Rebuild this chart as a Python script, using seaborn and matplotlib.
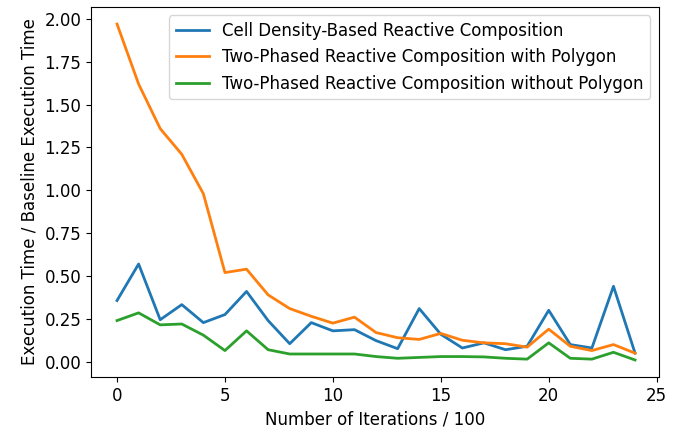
import matplotlib
matplotlib.use("Agg")
import matplotlib.pyplot as plt
import seaborn as sns
import pandas as pd

# data
iterations = list(range(25))
cell_density = [0.357, 0.57, 0.245, 0.333, 0.228, 0.275, 0.41, 0.24, 0.105, 0.228,
                0.18, 0.187, 0.123, 0.076, 0.31, 0.16, 0.08, 0.11, 0.07, 0.09,
                0.30, 0.10, 0.08, 0.44, 0.05]
with_polygon = [1.97, 1.62, 1.36, 1.21, 0.98, 0.52, 0.54, 0.39, 0.31, 0.265,
                0.225, 0.26, 0.17, 0.14, 0.13, 0.165, 0.125, 0.11, 0.105, 0.085,
                0.19, 0.09, 0.065, 0.10, 0.05]
without_polygon = [0.24, 0.285, 0.215, 0.22, 0.155, 0.065, 0.18, 0.07, 0.045, 0.045,
                   0.045, 0.045, 0.03, 0.02, 0.025, 0.03, 0.03, 0.028, 0.02, 0.015,
                   0.11, 0.02, 0.015, 0.055, 0.01]
labels = ["Cell Density-Based Reactive Composition",
          "Two-Phased Reactive Composition with Polygon",
          "Two-Phased Reactive Composition without Polygon"]

df = pd.DataFrame({
    "iter": iterations * 3,
    "ratio": cell_density + with_polygon + without_polygon,
    "method": [labels[0]] * 25 + [labels[1]] * 25 + [labels[2]] * 25,
})

plt.rcParams["font.size"] = 12
fig, ax = plt.subplots(figsize=(6.75, 4.32), dpi=100)
sns.lineplot(data=df, x="iter", y="ratio", hue="method",
             palette=["tab:blue", "tab:orange", "tab:green"], linewidth=2, ax=ax)
ax.legend(title=None, loc="upper right")
ax.set_xlabel("Number of Iterations / 100")
ax.set_ylabel("Execution Time / Baseline Execution Time")
ax.set_xticks([0, 5, 10, 15, 20, 25])
ax.set_yticks([0, 0.25, 0.5, 0.75, 1.0, 1.25, 1.5, 1.75, 2.0])
ax.set_xlim(-1.2, 25.1)
ax.set_ylim(-0.09, 2.07)
fig.subplots_adjust(left=0.135, right=0.976, top=0.984, bottom=0.127)
fig.savefig("out.png", dpi=100)
